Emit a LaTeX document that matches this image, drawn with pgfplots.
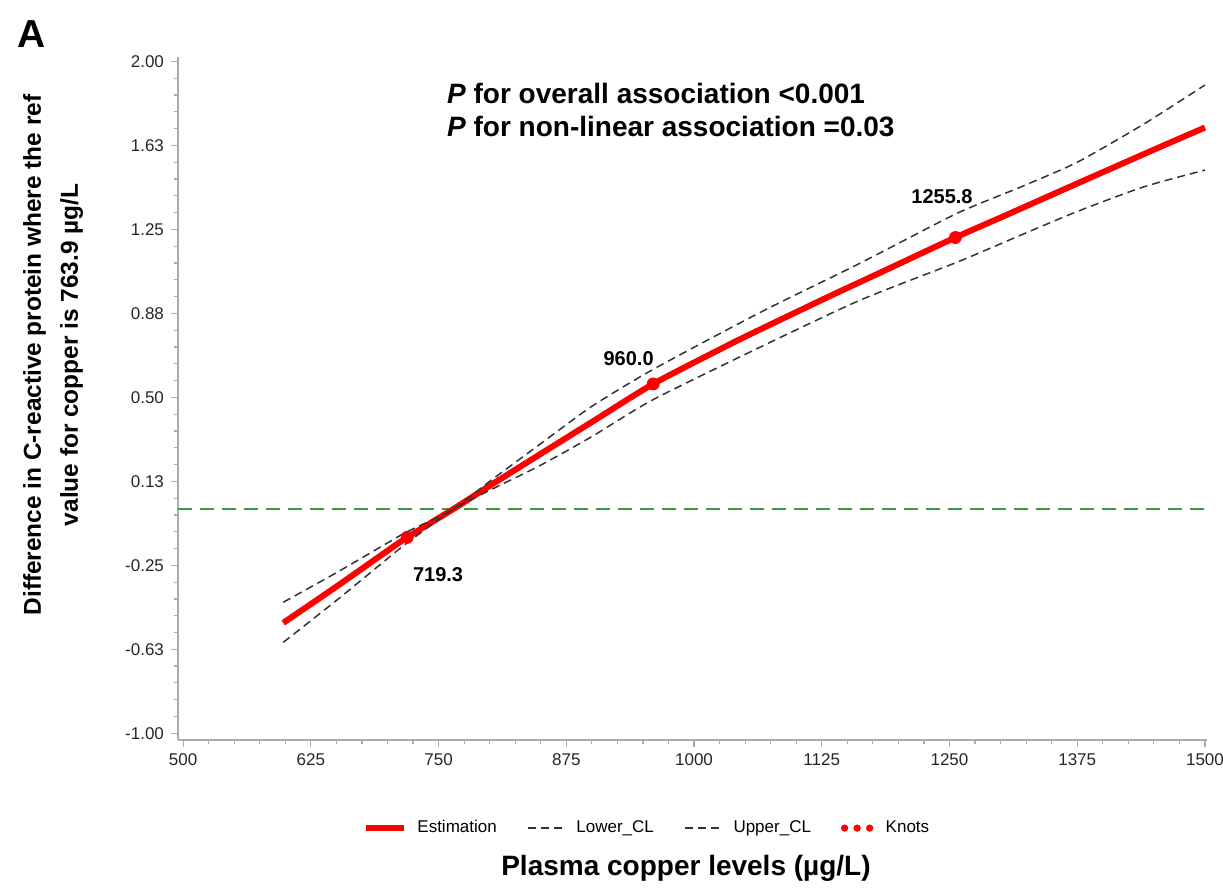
\documentclass[border=0pt]{standalone}
\usepackage{pgfplots}
\pgfplotsset{compat=1.18}
\usepackage{fontspec}
\setmainfont{Liberation Sans}
\definecolor{refgreen}{HTML}{3C9A3C}
\definecolor{cldark}{HTML}{333333}
\begin{document}
\begin{tikzpicture}
\useasboundingbox (-89pt,-74.5pt) rectangle (522.5pt,370pt);
\begin{axis}[
  at={(0,0)}, anchor=south west,
  scale only axis, width=514.5pt, height=341.5pt,
  xmin=495, xmax=1502, ymin=-1.03, ymax=2.02,
  axis x line*=bottom, axis y line*=left,
  axis line style={-, draw=gray!65, line width=0.6pt},
  tick style={draw=gray!65, line width=0.6pt},
  tick align=outside,
  major tick length=3.5pt, minor tick length=2pt,
  xtick={500,625,...,1500},
  minor x tick num=4,
  ytick={-1,-0.625,-0.25,0.125,0.5,0.875,1.25,1.625,2},
  yticklabels={-1.00,-0.63,-0.25,0.13,0.50,0.88,1.25,1.63,2.00},
  minor y tick num=4,
  /pgf/number format/assume math mode=true,
  xticklabel style={/pgf/number format/.cd, fixed, 1000 sep={}},
  tick label style={font=\fontsize{8.5}{10}\selectfont, text=black!85},
  legend columns=4,
  legend image code/.code={\draw[#1] (0cm,0cm) -- (0.67cm,0cm);},
  legend style={at={(0.457,-0.129)}, anchor=center, draw=none,
    font=\fontsize{8.5}{10}\selectfont,
    /tikz/every odd column/.append style={column sep=3pt},
    /tikz/every even column/.append style={column sep=13pt}},
  clip=false,
]
\addplot[forget plot, refgreen, line width=1pt, dash pattern=on 7pt off 4pt] coordinates {(495,0) (1502,0)};
\addplot[red, line width=3pt, smooth, tension=0.4] table {
x y
598 -0.507
650 -0.345
700 -0.185
719.3 -0.125
764 0
800 0.105
849 0.245
900 0.39
960 0.56
1032 0.73
1065 0.804
1130 0.946
1162 1.014
1200 1.095
1255.8 1.214
1300 1.303
1375 1.455
1450 1.606
1500 1.705
};
\addlegendentry{Estimation}
\addplot[cldark, line width=0.75pt, dash pattern=on 4pt off 2.5pt, smooth, tension=0.4] table {
x y
598 -0.594
650 -0.407
700 -0.22
719.3 -0.15
764 0
800 0.085
849 0.195
900 0.325
960 0.49
1065 0.725
1162 0.933
1257 1.103
1320 1.225
1375 1.33
1440 1.44
1500 1.515
};
\addlegendentry{Lower\_CL}
\addplot[cldark, line width=0.75pt, dash pattern=on 4pt off 2.5pt, smooth, tension=0.4] table {
x y
598 -0.415
650 -0.283
700 -0.15
719.3 -0.10
764 0
800 0.125
849 0.29
900 0.46
960 0.625
1065 0.88
1162 1.098
1257 1.321
1320 1.44
1375 1.55
1440 1.72
1500 1.895
};
\addlegendentry{Upper\_CL}
\addplot[only marks, red, mark=*, mark size=3pt,
  legend image code/.code={\fill[red] (0.08cm,0) circle (1.6pt) (0.3cm,0) circle (1.6pt) (0.52cm,0) circle (1.6pt); \path (0.62cm,0);}]
  coordinates {(719.3,-0.125) (960,0.56) (1255.8,1.214)};
\addlegendentry{Knots}
\node[font=\fontsize{10}{12}\selectfont\bfseries] at (axis cs:749.5,-0.29) {719.3};
\node[font=\fontsize{10}{12}\selectfont\bfseries] at (axis cs:936,0.674) {960.0};
\node[font=\fontsize{10}{12}\selectfont\bfseries] at (axis cs:1242.7,1.397) {1255.8};
\node[anchor=base west, font=\fontsize{14}{16}\selectfont\bfseries, inner sep=0pt] at (axis cs:758,1.8125) {\textit{P} for overall association <0.001};
\node[anchor=base west, font=\fontsize{14}{16}\selectfont\bfseries, inner sep=0pt] at (axis cs:758,1.665) {\textit{P} for non-linear association =0.03};
\end{axis}
\node[rotate=90, align=center, font=\fontsize{12.2}{18.5}\selectfont\bfseries] at (-62.5pt,192.5pt) {Difference in C-reactive protein where the ref\\value for copper is 763.9 µg/L};
\node[font=\fontsize{14}{16}\selectfont\bfseries] at (254pt,-64pt) {Plasma copper levels (µg/L)};
\node[font=\fontsize{19.5}{22}\selectfont\bfseries] at (-73pt,353pt) {A};
\end{tikzpicture}
\end{document}
